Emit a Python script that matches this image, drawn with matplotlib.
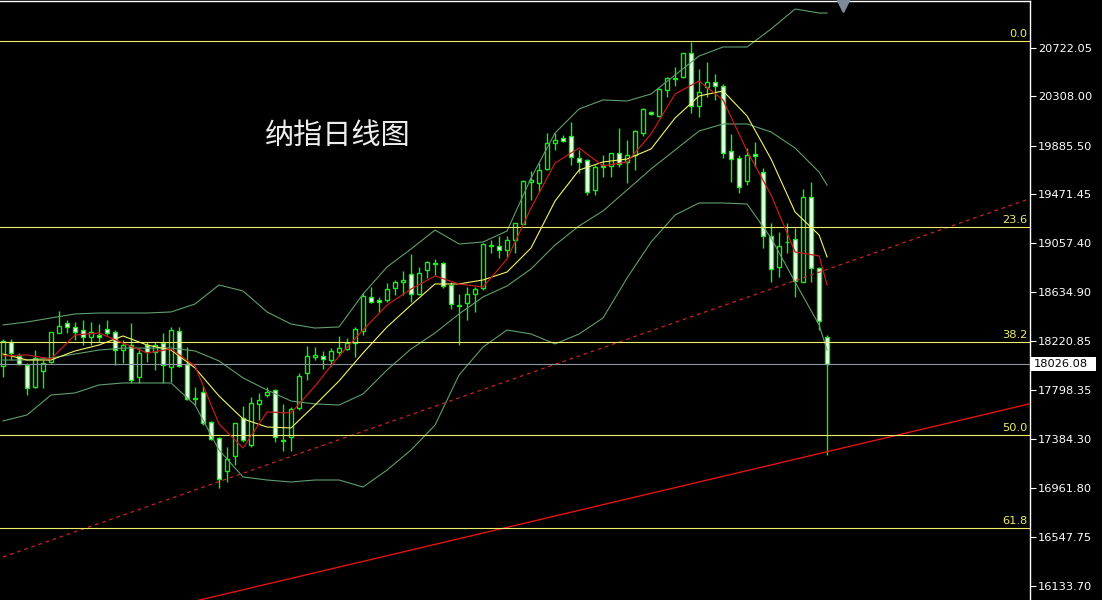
import numpy as np
import matplotlib
matplotlib.use("Agg")
import matplotlib.pyplot as plt
from matplotlib.patches import Rectangle
from matplotlib.transforms import blended_transform_factory

# daily candles, oldest first
opens = [18007, 18212, 18092, 18015, 17828, 17964, 18041, 18289, 18374, 18340,
         18314, 18254, 18271, 18323, 18297, 18143, 18186, 17913, 18186, 18126,
         18203, 17998, 18306, 18024, 17725, 17785, 17529, 17393, 17111, 17239,
         17563, 17333, 17683, 17759, 17802, 17367, 17401, 17649, 17947, 18084,
         18092, 18058, 18126, 18152, 18203, 18306, 18596, 18570, 18570, 18672,
         18724, 18792, 18621, 18826, 18877, 18886, 18698, 18519, 18544, 18621,
         18672, 19035, 19031, 18997, 19082, 19219, 19577, 19568, 19688, 19910,
         19952, 19970, 19782, 19765, 19509, 19722, 19714, 19824, 19748, 19807,
         19995, 20174, 20140, 20362, 20460, 20473, 20678, 20225, 20388, 20430,
         20396, 19842, 19782, 19586, 19816, 19662, 19116, 18852, 19061, 19091,
         18724, 19449, 18843, 18254]
highs = [18237, 18237, 18118, 18033, 18143, 18058, 18297, 18476, 18399, 18382,
         18399, 18382, 18365, 18399, 18314, 18229, 18374, 18160, 18212, 18212,
         18289, 18340, 18340, 18169, 17828, 17836, 17538, 17401, 17316, 17521,
         17666, 17742, 17777, 17828, 17811, 17683, 17657, 17947, 18178, 18169,
         18135, 18160, 18263, 18246, 18340, 18630, 18681, 18596, 18715, 18741,
         18818, 18963, 18852, 18903, 18920, 18894, 18724, 18621, 18681, 18681,
         19056, 19082, 19116, 19116, 19227, 19594, 19671, 19739, 19995, 19995,
         19978, 20089, 19850, 19773, 19722, 19807, 19824, 20038, 19935, 20021,
         20208, 20183, 20379, 20473, 20558, 20678, 20772, 20541, 20601, 20499,
         20413, 19987, 19807, 19867, 19918, 19696, 19227, 19150, 19227, 19184,
         19517, 19577, 18852, 18271]
lows = [17913, 18058, 18015, 17759, 17819, 17819, 18033, 18289, 18289, 18229,
        18186, 18186, 18212, 18271, 18015, 18033, 17862, 17862, 18041, 17973,
        17862, 17870, 17998, 17717, 17674, 17503, 17375, 16966, 17017, 17162,
        17358, 17316, 17546, 17742, 17358, 17282, 17282, 17631, 17888, 18058,
        17981, 18007, 18092, 18143, 18084, 18271, 18544, 18468, 18553, 18613,
        18613, 18553, 18613, 18758, 18783, 18672, 18493, 18186, 18399, 18468,
        18655, 18971, 18928, 18937, 18971, 19219, 19423, 19492, 19679, 19850,
        19918, 19722, 19654, 19466, 19466, 19620, 19620, 19705, 19568, 19679,
        19970, 20149, 20132, 20302, 20396, 20464, 20166, 20132, 20302, 20277,
        19782, 19577, 19483, 19551, 19705, 19014, 18724, 18766, 18971, 18596,
        18724, 18724, 18314, 17247]
closes = [18220, 18118, 18024, 17819, 18075, 18033, 18297, 18348, 18340, 18297,
          18254, 18297, 18254, 18289, 18143, 18186, 17888, 18118, 18126, 18186,
          18015, 18314, 18007, 17725, 17734, 17521, 17384, 17043, 17213, 17521,
          17375, 17691, 17717, 17785, 17401, 17375, 17640, 17922, 18092, 18101,
          18067, 18135, 18160, 18203, 18323, 18604, 18553, 18553, 18664, 18724,
          18741, 18621, 18800, 18894, 18886, 18690, 18536, 18527, 18621, 18664,
          19048, 19039, 18997, 19082, 19227, 19586, 19594, 19679, 19910, 19935,
          19927, 19790, 19748, 19492, 19705, 19705, 19824, 19731, 19807, 20012,
          20200, 20157, 20371, 20464, 20464, 20678, 20225, 20345, 20430, 20396,
          19824, 19773, 19534, 19807, 19799, 19116, 18835, 19031, 19065, 18732,
          19449, 18843, 18391, 18026.08]

# indicator lines, read every 3rd candle
line_idx = list(range(0, 103, 3)) + [103]
ma_red = [18092, 18101, 18067, 18271, 18289, 18203, 18118, 18152, 18007, 17512,
          17307, 17614, 17606, 17836, 18092, 18314, 18527, 18664, 18775, 18707,
          18681, 18920, 19355, 19739, 19867, 19714, 19748, 19987, 20328, 20439,
          20277, 19842, 19466, 18980, 18946, 18698]
ma_yellow = [18109, 18058, 18058, 18135, 18186, 18263, 18186, 18143, 17990, 17751,
             17555, 17486, 17478, 17674, 17879, 18118, 18340, 18527, 18707, 18707,
             18741, 18809, 19014, 19415, 19679, 19748, 19773, 19859, 20123, 20311,
             20354, 20140, 19773, 19321, 19125, 18937]
bb_upper = [18357, 18382, 18417, 18451, 18459, 18459, 18459, 18468, 18536, 18698,
            18647, 18468, 18365, 18331, 18340, 18621, 18852, 19005, 19167, 19048,
            19065, 19159, 19611, 19995, 20200, 20277, 20268, 20328, 20490, 20652,
            20729, 20729, 20883, 21053, 21019, 21019]
bb_mid = [18058, 18058, 18075, 18109, 18143, 18160, 18160, 18160, 18135, 18050,
          17905, 17802, 17708, 17683, 17674, 17768, 17973, 18152, 18289, 18451,
          18596, 18690, 18835, 19039, 19202, 19330, 19509, 19688, 19850, 20012,
          20072, 20072, 20004, 19867, 19662, 19551]
bb_lower = [17538, 17589, 17759, 17777, 17845, 17862, 17862, 17862, 17674, 17290,
            17060, 17034, 17017, 17034, 17034, 16974, 17119, 17290, 17503, 17930,
            18169, 18314, 18280, 18195, 18280, 18417, 18758, 19065, 19295, 19398,
            19398, 19389, 19099, 18724, 18357, 18143]

# fibonacci retracement and trend lines
fib_high = 20780
fib_low = 14056
fib_levels = [0.0, 23.6, 38.2, 50.0, 61.8]
trend_solid_x = [20, 130]
trend_solid_y = [15936, 17711]
trend_dash_x = [0, 130]
trend_dash_y = [16377, 19474]

last_price = 18026.08
ytick_values = [20722.05, 20308.00, 19885.50, 19471.45, 19057.40, 18634.90,
                18220.85, 17798.35, 17384.30, 16961.80, 16547.75, 16133.70]
title_text = "纳指日线图"

GREEN = '#1ee81e'
BAND = '#5e9e6e'
FIB = '#eeee6a'

fig = plt.figure(figsize=(11.02, 6.0), dpi=100, facecolor='black')
ax = fig.add_axes([0, 0, 1029.5 / 1102, 599 / 600])
ax.set_facecolor('black')
ax.set_xlim(-0.375, 128.3)
ax.set_ylim(16010, 21121.5)

# candles
o = np.array(opens, dtype=float)
h = np.array(highs, dtype=float)
l = np.array(lows, dtype=float)
c = np.array(closes, dtype=float)
idx = np.arange(len(o))
bear = c < o
ax.vlines(idx, l, h, color=GREEN, lw=1, zorder=2)
body_low = np.minimum(o, c)
body_h = np.maximum(np.abs(c - o), 4)
ax.bar(idx, body_h, bottom=body_low, width=0.58,
       color=np.where(bear, 'white', 'black'), edgecolor=GREEN,
       linewidth=1, zorder=2.5)

# bollinger bands and moving averages
for band in (bb_upper, bb_mid, bb_lower):
    ax.plot(line_idx, band, color=BAND, lw=0.8, zorder=3)
ax.plot(line_idx, ma_yellow, color='#f4f46a', lw=0.8, zorder=3.2)
ax.plot(line_idx, ma_red, color='#c41a1a', lw=0.9, zorder=3.3)

# trend lines
ax.plot(trend_solid_x, trend_solid_y, color='#e01414', lw=1, zorder=3)
ax.plot(trend_dash_x, trend_dash_y, color='#c42424', lw=0.9,
        linestyle=(0, (3, 3)), zorder=3)

# fib levels
trans = blended_transform_factory(ax.transAxes, ax.transData)
for lvl in fib_levels:
    price = fib_high - (fib_high - fib_low) * lvl / 100
    ax.axhline(price, color=FIB, lw=0.8, zorder=3)
    ax.text(0.9976, price + 15, f'{lvl:.1f}', transform=trans, ha='right',
            va='bottom', color=FIB, fontsize=8.2, zorder=4)

# current price line
ax.axhline(last_price, color='#8d97a3', lw=0.8, zorder=3)

# axes look
for side in ('left', 'bottom'):
    ax.spines[side].set_visible(False)
for side in ('top', 'right'):
    ax.spines[side].set_color('white')
    ax.spines[side].set_linewidth(1)
ax.set_xticks([])
ax.yaxis.tick_right()
ax.set_yticks(ytick_values)
ax.set_yticklabels([f'{v:.2f}' for v in ytick_values])
ax.tick_params(axis='y', colors='white', labelsize=8.2, length=4, width=0.8, pad=2)

# price tag box on the axis
fig.canvas.draw()
ydisp = ax.transData.transform((0, last_price))[1]
fig.add_artist(Rectangle((1031, ydisp - 7), 65, 14, transform=None,
                         facecolor='white', edgecolor='none', zorder=5))
fig.text(1034 / 1102, ydisp / 600, f'{last_price:.2f}', color='black',
         fontsize=8.2, ha='left', va='center', zorder=6)

# title and shift marker
ax.text(0.328, 0.775, title_text, transform=ax.transAxes, ha='center', va='center',
        fontsize=21, color='#eeeeee', family=['Noto Sans CJK SC', 'DejaVu Sans'])
ax.plot([843 / 1029.5], [1 - 5 / 599], marker='v', color='#7d8a98', ms=8,
        transform=ax.transAxes, clip_on=False, zorder=6)

fig.savefig('out.png', dpi=100, facecolor='black')
